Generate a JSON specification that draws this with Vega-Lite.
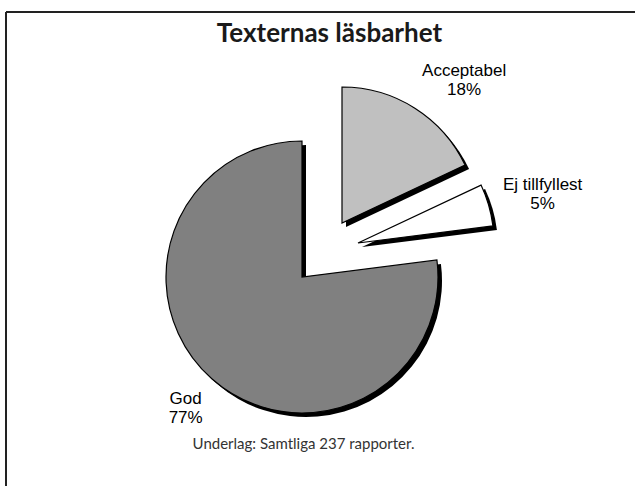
{
  "$schema": "https://vega.github.io/schema/vega-lite/v6.json",
  "width": 629,
  "height": 474,
  "autosize": "none",
  "padding": {"left": 6, "top": 12, "right": 0, "bottom": 0},
  "background": "white",
  "config": {
    "view": {"stroke": "#222222", "strokeWidth": 2, "strokeDash": [629, 1103, 474, 0]}
  },
  "title": {
    "text": "Texternas läsbarhet",
    "font": "Lato",
    "fontSize": 26,
    "fontWeight": "bold",
    "color": "#1a1a1a",
    "anchor": "middle",
    "baseline": "alphabetic",
    "offset": -30,
    "dy": 26,
    "dx": 9
  },
  "data": {
    "values": [
      {"cat": "Acceptabel", "pct": 18},
      {"cat": "Ej tillfyllest", "pct": 5},
      {"cat": "God", "pct": 77}
    ]
  },
  "layer": [
    {
      "mark": {"type": "arc", "radius": 136, "fill": "black", "xOffset": 4, "yOffset": 4},
      "encoding": {
        "theta": {"field": "pct", "type": "quantitative", "stack": true},
        "order": {"field": "cat", "type": "ordinal", "sort": "ascending"},
        "x": {"value": {"expr": "width/2 + (datum.cat === 'Acceptabel' ? 21.5 : datum.cat === 'Ej tillfyllest' ? 37.5 : -18.5)"}},
        "y": {"value": {"expr": "height/2 + (datum.cat === 'Acceptabel' ? -26 : datum.cat === 'Ej tillfyllest' ? -6 : 28)"}}
      }
    },
    {
      "mark": {"type": "arc", "radius": 136, "stroke": "black", "strokeWidth": 1.2},
      "encoding": {
        "theta": {"field": "pct", "type": "quantitative", "stack": true},
        "order": {"field": "cat", "type": "ordinal", "sort": "ascending"},
        "color": {
          "field": "cat",
          "type": "nominal",
          "scale": {"domain": ["Acceptabel", "Ej tillfyllest", "God"], "range": ["#c0c0c0", "#ffffff", "#808080"]},
          "legend": null
        },
        "x": {"value": {"expr": "width/2 + (datum.cat === 'Acceptabel' ? 21.5 : datum.cat === 'Ej tillfyllest' ? 37.5 : -18.5)"}},
        "y": {"value": {"expr": "height/2 + (datum.cat === 'Acceptabel' ? -26 : datum.cat === 'Ej tillfyllest' ? -6 : 28)"}}
      }
    },
    {
      "transform": [{"calculate": "datum.cat + '\\n' + datum.pct + '%'", "as": "label"}],
      "mark": {"type": "text", "radius": 185, "font": "Liberation Sans", "fontSize": 17, "lineBreak": "\n", "lineHeight": 19, "align": "center", "baseline": "middle", "color": "black"},
      "encoding": {
        "theta": {"field": "pct", "type": "quantitative", "stack": true},
        "order": {"field": "cat", "type": "ordinal", "sort": "ascending"},
        "text": {"field": "label"},
        "x": {"value": {"expr": "width/2 + (datum.cat === 'Acceptabel' ? 44.5 : datum.cat === 'Ej tillfyllest' ? 44.5 : -12.5)"}},
        "y": {"value": {"expr": "height/2 + (datum.cat === 'Acceptabel' ? -22 : datum.cat === 'Ej tillfyllest' ? -12 : 11)"}}
      }
    },
    {
      "data": {"values": [{"note": "Underlag: Samtliga 237 rapporter."}]},
      "mark": {"type": "text", "font": "Lato", "fontSize": 15, "color": "#333333", "align": "center", "baseline": "alphabetic"},
      "encoding": {
        "text": {"field": "note"},
        "x": {"value": {"expr": "width/2 - 17"}},
        "y": {"value": {"expr": "height - 37"}}
      }
    }
  ]
}
